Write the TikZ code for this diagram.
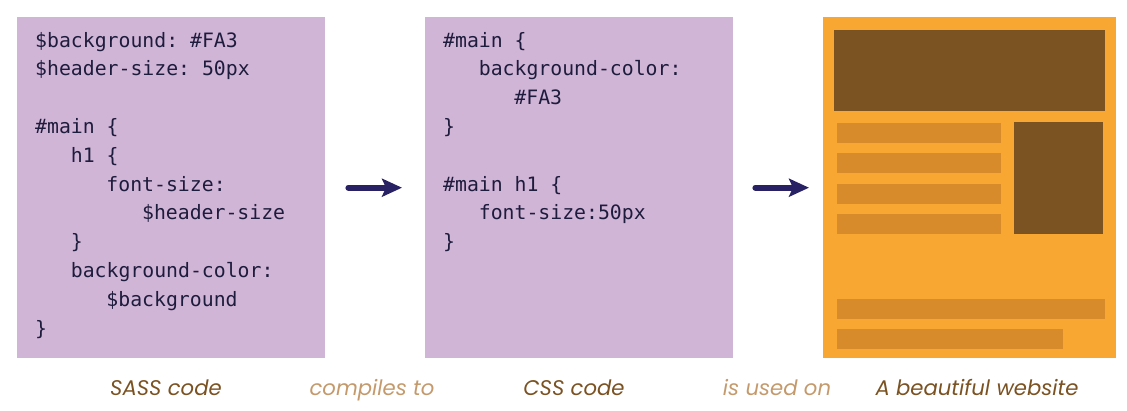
\documentclass[tikz,border=0pt]{standalone}
\usepackage{fontspec}
\setmonofont{DejaVu Sans Mono}
\newfontfamily\lblfont{Poppins}
\usetikzlibrary{arrows.meta}
\definecolor{codebg}{HTML}{D1B5D7}
\definecolor{codetxt}{HTML}{1E1C3C}
\definecolor{arrowc}{HTML}{282264}
\definecolor{siteorange}{HTML}{F9A733}
\definecolor{sitedark}{HTML}{7B5222}
\definecolor{sitebar}{HTML}{D88B2A}
\definecolor{lbldark}{HTML}{7B5222}
\definecolor{lbllight}{HTML}{C49A6C}
\newcommand{\tabin}{\hspace*{1.8em}}
\begin{document}
\begin{tikzpicture}[x=1pt,y=-1pt,
  panel/.style={fill=codebg, minimum width=308pt, minimum height=341pt, inner sep=0pt, anchor=north west},
  code/.style={font=\ttfamily\fontsize{19.8}{28.8}\selectfont, text=codetxt, align=left, anchor=base west, inner sep=0pt},
  lbl/.style={font=\lblfont\itshape\fontsize{21.2}{25}\selectfont, anchor=base},
  flow/.style={draw=arrowc, line width=6pt, line cap=round, -{Stealth[length=20pt,width=18pt,inset=4pt]}}]
\useasboundingbox (0,0) rectangle (1127,410);
% panels
\node[panel] (sass) at (17,17) {};
\node[panel] (css) at (425,17) {};
\node[panel, fill=siteorange, minimum width=293pt] (site) at (823,17) {};
% code (anchored at the baseline of the last line)
\node[code] (sasscode) at (35,335) {\$background: \#FA3\\
\$header-size: 50px\\
\mbox{}\\
\#main \{\\
\tabin h1 \{\\
\tabin\tabin font-size:\\
\tabin\tabin\tabin \$header-size\\
\tabin \}\\
\tabin background-color:\\
\tabin\tabin \$background\\
\}};
\node[code] (csscode) at (443,248.6) {\#main \{\\
\tabin background-color:\\
\tabin\tabin \#FA3\\
\}\\
\mbox{}\\
\#main h1 \{\\
\tabin font-size:50px\\
\}};
% the website
\fill[sitedark] (834,30) rectangle (1105,111);
\foreach \y in {123,153,184,214}
  \fill[sitebar] (837,\y) rectangle (1001,\y+20);
\fill[sitedark] (1014,122) rectangle (1103,234);
\fill[sitebar] (837,299) rectangle (1105,319);
\fill[sitebar] (837,329) rectangle (1063,349);
% arrows
\draw[flow, shorten <=23pt, shorten >=23pt] (sass.east) -- (css.west);
\draw[flow, shorten <=22pt, shorten >=14pt] (css.east) -- (site.west);
% labels
\node[lbl, text=lbldark] (sasslbl) at (166,395) {SASS code};
\node[lbl, text=lbllight] (compiles) at (372,395) {compiles to};
\node[lbl, text=lbldark] (csslbl) at (574,395) {CSS code};
\node[lbl, text=lbllight] (usedon) at (777,395) {is used on};
\node[lbl, text=lbldark] (sitelbl) at (977,395) {A beautiful website};
\end{tikzpicture}
\end{document}
